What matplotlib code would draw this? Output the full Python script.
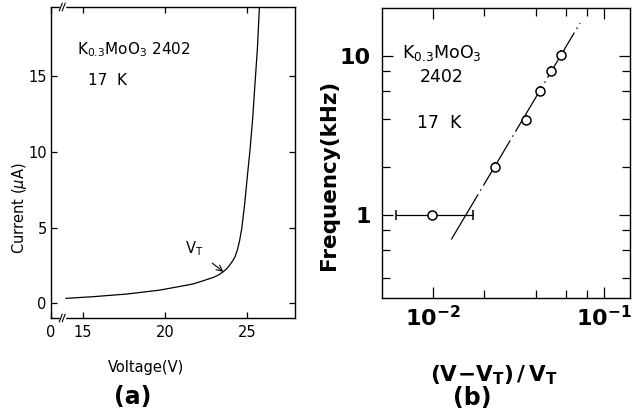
import numpy as np
import matplotlib
matplotlib.use("Agg")
import matplotlib.pyplot as plt

# (a) I-V curve
voltage = [13.96, 15.6, 17.7, 19.7, 21.7, 22.34, 22.95, 23.25, 23.55, 23.76,
           23.95, 24.13, 24.27, 24.41, 24.55, 24.68, 24.78, 24.88, 25.02,
           25.18, 25.35, 25.49, 25.63, 25.75]
current = [0.31, 0.42, 0.60, 0.86, 1.26, 1.48, 1.70, 1.85, 2.07, 2.27,
           2.52, 2.80, 3.07, 3.51, 4.15, 4.95, 5.85, 6.8, 8.4,
           10.1, 12.3, 14.6, 16.8, 19.5]
v_t = (23.56, 2.07)

# (b) frequency vs reduced field
red_field = [0.0099, 0.0231, 0.0348, 0.0422, 0.0493, 0.0564]
freq = [1.0, 2.0, 3.95, 6.0, 8.0, 10.2]
err_lo = [0.0038, 0, 0, 0, 0, 0]
err_hi = [0.0072, 0, 0, 0, 0, 0]
fit_x = [0.0128, 0.0725]
fit_y = [0.70, 16.1]

plt.rcParams['font.family'] = ['DejaVu Sans']
plt.rcParams['mathtext.fontset'] = 'dejavusans'

fig = plt.figure(figsize=(6.39, 4.13), dpi=100)

# ---- panel (a)
ax1 = fig.add_axes([0.0798, 0.230, 0.382, 0.753])
ax1.plot(voltage, current, color='black', lw=0.9)
ax1.set_xlim(13.05, 27.93)
ax1.set_ylim(-0.99, 19.6)
ax1.set_xticks([13.05, 15, 20, 25])
ax1.set_xticklabels(['0', '15', '20', '25'])
ax1.set_yticks([0, 5, 10, 15])
ax1.tick_params(direction='in', top=True, right=True, length=4, width=0.9,
                labelsize=10.5)
ax1.tick_params(axis='x', pad=5)
ax1.tick_params(axis='y', pad=3)
for s in ax1.spines.values():
    s.set_linewidth(1.0)

# axis break marks
for yb in (0, 1):
    ax1.plot([0.040, 0.054], [yb, yb], color='white', lw=2.5,
             transform=ax1.transAxes, clip_on=False, zorder=5)
    for xb in (0.040, 0.052):
        ax1.plot([xb - 0.006, xb + 0.006], [yb - 0.012, yb + 0.012],
                 color='black', lw=0.8, transform=ax1.transAxes,
                 clip_on=False, zorder=6)

ax1.text(0.107, 0.862, r'K$_{0.3}$MoO$_3$ 2402', transform=ax1.transAxes,
         fontsize=11, va='center', ha='left')
ax1.text(0.152, 0.765, '17  K', transform=ax1.transAxes,
         fontsize=11, va='center', ha='left')
ax1.annotate(r'V$_\mathrm{T}$', xy=v_t, xytext=(21.75, 3.6),
             fontsize=10.5, ha='center', va='center',
             arrowprops=dict(arrowstyle='->', color='black', lw=0.8,
                             shrinkA=6, shrinkB=0))

fig.text(0.031, 0.496, r'Current ($\mu$A)', rotation=90, fontsize=10.5,
         ha='center', va='center')
fig.text(0.228, 0.111, 'Voltage(V)', fontsize=10.5, ha='center', va='center')
fig.text(0.207, 0.039, '(a)', fontsize=17, fontweight='bold',
         ha='center', va='center')

# ---- panel (b)
ax2 = fig.add_axes([0.5978, 0.2785, 0.388, 0.702])
ax2.set_xscale('log')
ax2.set_yscale('log')
ax2.plot(fit_x, fit_y, color='black', lw=0.9, dashes=(42, 3.5, 1.2, 3.5),
         zorder=2)
ax2.errorbar(red_field, freq, xerr=[err_lo, err_hi], fmt='o', color='black',
             mfc='white', mec='black', ms=6.5, mew=1.1, elinewidth=0.9,
             capsize=3.6, capthick=0.9, zorder=3)
ax2.set_xlim(0.00503, 0.142)
ax2.set_ylim(0.30, 20)
ax2.set_xticks([0.01, 0.1])
ax2.set_xticklabels([r'$\mathbf{10^{-2}}$', r'$\mathbf{10^{-1}}$'])
ax2.set_xticks([0.02, 0.04, 0.06, 0.08], minor=True)
ax2.set_xticklabels([], minor=True)
ax2.set_yticks([1, 10])
ax2.set_yticklabels(['1', '10'])
ax2.set_yticks([0.4, 0.6, 0.8, 2, 4, 6, 8], minor=True)
ax2.set_yticklabels([], minor=True)
ax2.tick_params(which='both', direction='in', top=True, right=True, width=0.9)
ax2.tick_params(which='major', length=8, labelsize=16)
ax2.tick_params(which='minor', length=5.5)
ax2.tick_params(axis='x', pad=5)
ax2.tick_params(axis='y', pad=8)
for lbl in ax2.get_yticklabels():
    lbl.set_fontweight('bold')
for s in ax2.spines.values():
    s.set_linewidth(1.0)

ax2.text(0.081, 0.845, r'K$_{0.3}$MoO$_3$', transform=ax2.transAxes,
         fontsize=12.5, va='center', ha='left')
ax2.text(0.153, 0.762, '2402', transform=ax2.transAxes,
         fontsize=12.5, va='center', ha='left')
ax2.text(0.141, 0.603, '17  K', transform=ax2.transAxes,
         fontsize=12.5, va='center', ha='left')

fig.text(0.515, 0.576, 'Frequency(kHz)', rotation=90, fontsize=15.5,
         fontweight='bold', ha='center', va='center')
fig.text(0.773, 0.092, r'$\mathbf{(V\!-\!V_T)\,/\,V_T}$', fontsize=15.5,
         ha='center', va='center')
fig.text(0.739, 0.036, '(b)', fontsize=17, fontweight='bold',
         ha='center', va='center')

fig.savefig('out.png', dpi=100)
